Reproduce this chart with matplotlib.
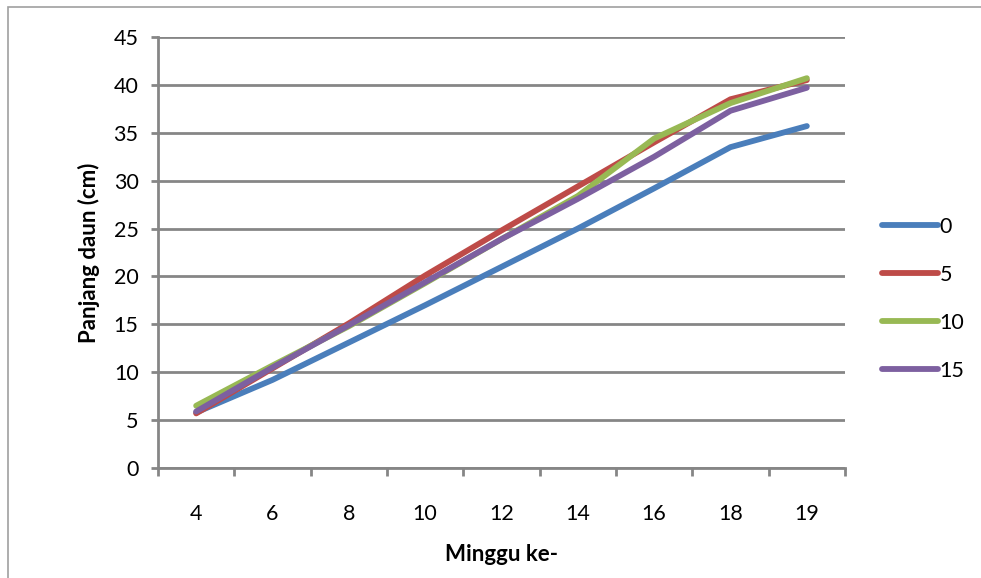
import matplotlib.pyplot as plt
import numpy as np
from matplotlib.patches import Rectangle

plt.rcParams["font.family"] = ["Lato", "DejaVu Sans"]

# data
weeks = ["4", "6", "8", "10", "12", "14", "16", "18", "19"]
dose_0 = [5.8, 9.2, 13.1, 17.0, 21.0, 25.0, 29.2, 33.5, 35.7]
dose_5 = [5.7, 10.4, 15.1, 20.1, 24.8, 29.4, 34.0, 38.5, 40.5]
dose_10 = [6.5, 10.7, 14.8, 19.3, 23.9, 28.4, 34.4, 38.1, 40.7]
dose_15 = [5.9, 10.5, 14.9, 19.4, 23.9, 28.1, 32.5, 37.3, 39.7]
series_labels = ["0", "5", "10", "15"]
colors = ["#4A7EBB", "#BE4B48", "#98B954", "#7D60A0"]

grid_color = "#868686"

fig = plt.figure(figsize=(9.81, 5.78), dpi=100)
ax = fig.add_axes([158 / 981, 1 - 468 / 578, (845 - 158) / 981, (468 - 37) / 578])

x = np.arange(len(weeks))
for vals, lab, col in zip([dose_0, dose_5, dose_10, dose_15], series_labels, colors):
    ax.plot(x, vals, color=col, lw=4.2, label=lab, solid_capstyle="round", solid_joinstyle="round")

ax.set_xlim(-0.5, len(weeks) - 0.5)
ax.set_ylim(0, 45)
ax.set_yticks(np.arange(0, 46, 5))
ax.set_xticks(x)
ax.set_xticklabels(weeks)
ax.set_xticks(np.arange(-0.5, len(weeks), 1), minor=True)

ax.yaxis.grid(True, color=grid_color, lw=2)
ax.set_axisbelow(True)
for side in ["top", "right"]:
    ax.spines[side].set_visible(False)
for side in ["left", "bottom"]:
    ax.spines[side].set_color(grid_color)
    ax.spines[side].set_linewidth(2)

ax.tick_params(axis="y", length=5, width=2, color=grid_color, labelsize=15.5, pad=9)
ax.tick_params(axis="x", which="major", length=0, labelsize=15.5, pad=26)
ax.tick_params(axis="x", which="minor", length=6, width=2, color=grid_color)

ax.set_ylabel("Panjang daun (cm)", fontsize=16, fontweight="bold", labelpad=10)
ax.set_xlabel("Minggu ke-", fontsize=16, fontweight="bold", labelpad=14)

leg = fig.legend(loc="upper left", bbox_to_anchor=(873 / 981, 1 - 208 / 578), frameon=False,
                 fontsize=15.5, handlelength=2.6, handletextpad=0.1, labelspacing=1.3,
                 borderaxespad=0)

# outer chart border
fig.patches.append(Rectangle((8 / 981, -0.1), 1.2, 1 - 7 / 578 + 0.1, transform=fig.transFigure,
                             fill=False, edgecolor="#A0A0A0", lw=1.2))

fig.savefig("out.png", dpi=100)
